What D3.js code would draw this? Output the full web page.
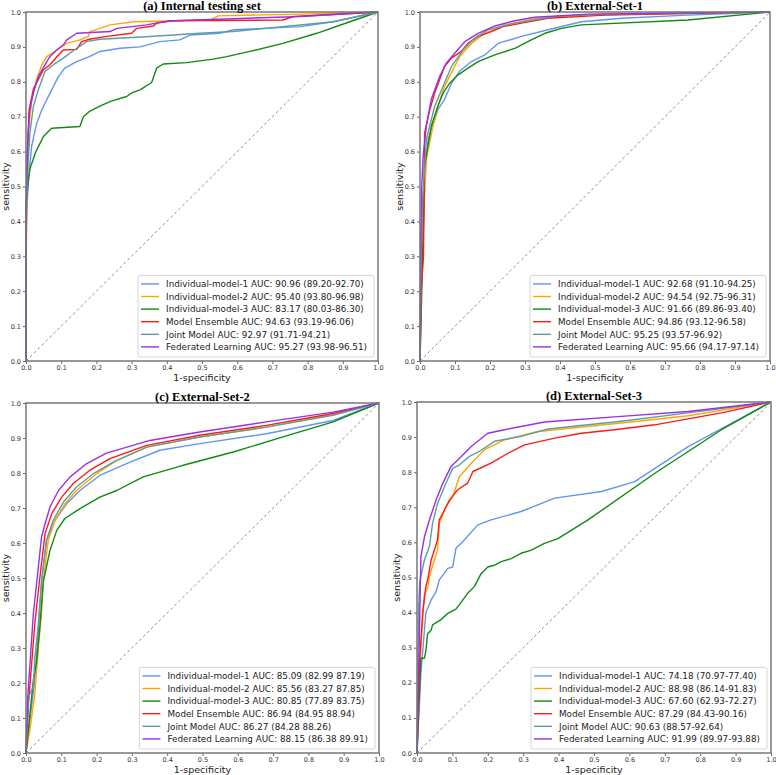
<!DOCTYPE html>
<html>
<head>
<meta charset="utf-8">
<script src="https://cdn.jsdelivr.net/npm/d3@7"></script>
<style>
  body { margin: 0; background: #fff; }
  svg { display: block; }
</style>
</head>
<body>
<svg id="chart" width="776" height="775"></svg>
<script>
// ROC curves, points are [1-specificity, sensitivity]
const seriesNames = ["Individual-model-1", "Individual-model-2", "Individual-model-3", "Model Ensemble", "Joint Model", "Federated Learning"];
const seriesColors = ["#6495ed", "#ffa500", "#108a10", "#ff1a1a", "#5f9ea0", "#9a2fe6"];
const ticks = [0, 0.1, 0.2, 0.3, 0.4, 0.5, 0.6, 0.7, 0.8, 0.9, 1.0];

const titles = ["(a) Internal testing set", "(b) External-Set-1", "(c) External-Set-2", "(d) External-Set-3"];

const aucA = ["90.96 (89.20-92.70)", "95.40 (93.80-96.98)", "83.17 (80.03-86.30)", "94.63 (93.19-96.06)", "92.97 (91.71-94.21)", "95.27 (93.98-96.51)"];
const aucB = ["92.68 (91.10-94.25)", "94.54 (92.75-96.31)", "91.66 (89.86-93.40)", "94.86 (93.12-96.58)", "95.25 (93.57-96.92)", "95.66 (94.17-97.14)"];
const aucC = ["85.09 (82.99 87.19)", "85.56 (83.27 87.85)", "80.85 (77.89 83.75)", "86.94 (84.95 88.94)", "86.27 (84.28 88.26)", "88.15 (86.38 89.91)"];
const aucD = ["74.18 (70.97-77.40)", "88.98 (86.14-91.83)", "67.60 (62.93-72.27)", "87.29 (84.43-90.16)", "90.63 (88.57-92.64)", "91.99 (89.97-93.88)"];

// (a) internal testing set
const rocA1 = [[0,0],[0,0.40],[0.007,0.52],[0.016,0.615],[0.03,0.68],[0.045,0.72],[0.059,0.749],[0.073,0.777],[0.092,0.815],[0.11,0.839],[0.144,0.858],[0.18,0.872],[0.21,0.887],[0.267,0.896],[0.324,0.90],[0.38,0.915],[0.437,0.92],[0.466,0.934],[0.55,0.939],[0.59,0.949],[0.78,0.958],[0.873,0.972],[1,1]];
const rocA2 = [[0,0],[0,0.27],[0.003,0.45],[0.007,0.653],[0.016,0.749],[0.03,0.806],[0.045,0.849],[0.059,0.872],[0.082,0.887],[0.116,0.91],[0.153,0.92],[0.177,0.93],[0.182,0.944],[0.21,0.953],[0.239,0.963],[0.305,0.972],[0.523,0.977],[0.546,0.989],[0.78,0.994],[1,1]];
const rocA3 = [[0,0],[0,0.44],[0.005,0.5],[0.011,0.55],[0.028,0.6],[0.05,0.644],[0.073,0.667],[0.153,0.672],[0.163,0.70],[0.18,0.715],[0.21,0.73],[0.24,0.744],[0.286,0.758],[0.30,0.768],[0.324,0.777],[0.357,0.798],[0.371,0.839],[0.39,0.851],[0.456,0.855],[0.532,0.865],[0.57,0.872],[0.636,0.887],[0.73,0.91],[0.826,0.939],[0.92,0.972],[1,1]];
const rocA4 = [[0,0],[0,0.40],[0.004,0.6],[0.009,0.72],[0.021,0.78],[0.035,0.806],[0.049,0.834],[0.068,0.849],[0.092,0.877],[0.106,0.891],[0.144,0.893],[0.158,0.915],[0.18,0.922],[0.23,0.93],[0.30,0.939],[0.314,0.953],[0.362,0.96],[0.371,0.968],[0.41,0.975],[0.73,0.977],[0.76,0.987],[1,1]];
const rocA5 = [[0,0],[0,0.35],[0.005,0.55],[0.011,0.653],[0.021,0.73],[0.035,0.777],[0.054,0.83],[0.078,0.849],[0.106,0.868],[0.144,0.896],[0.172,0.915],[0.21,0.922],[0.352,0.93],[0.494,0.939],[0.589,0.944],[0.873,0.972],[1,1]];
const rocA6 = [[0,0],[0,0.42],[0.004,0.6],[0.009,0.71],[0.021,0.768],[0.035,0.815],[0.059,0.858],[0.068,0.872],[0.087,0.891],[0.106,0.906],[0.116,0.92],[0.144,0.939],[0.239,0.944],[0.258,0.953],[0.343,0.963],[0.38,0.97],[0.418,0.975],[0.78,0.987],[1,1]];

// (b) External-Set-1
const rocB1 = [[0,0],[0.004,0.3],[0.008,0.45],[0.015,0.55],[0.023,0.634],[0.051,0.72],[0.07,0.749],[0.09,0.796],[0.113,0.83],[0.147,0.858],[0.185,0.877],[0.223,0.91],[0.29,0.93],[0.366,0.949],[0.461,0.972],[0.576,0.982],[0.766,0.991],[1,1]];
const rocB2 = [[0,0],[0.005,0.25],[0.012,0.45],[0.018,0.577],[0.037,0.672],[0.051,0.73],[0.07,0.787],[0.094,0.834],[0.113,0.872],[0.147,0.91],[0.185,0.939],[0.242,0.963],[0.337,0.982],[0.48,0.991],[1,1]];
const rocB3 = [[0,0],[0.005,0.2],[0.01,0.4],[0.013,0.558],[0.032,0.672],[0.051,0.73],[0.066,0.768],[0.085,0.796],[0.109,0.82],[0.137,0.839],[0.166,0.858],[0.214,0.877],[0.271,0.896],[0.318,0.92],[0.357,0.939],[0.404,0.953],[0.461,0.963],[0.766,0.977],[1,1]];
const rocB4 = [[0,0],[0.003,0.2],[0.01,0.3],[0.012,0.5],[0.013,0.653],[0.028,0.72],[0.042,0.768],[0.056,0.806],[0.07,0.844],[0.09,0.868],[0.118,0.887],[0.137,0.91],[0.166,0.93],[0.204,0.944],[0.237,0.958],[0.29,0.968],[0.366,0.982],[0.528,0.991],[1,1]];
const rocB5 = [[0,0],[0.003,0.3],[0.007,0.45],[0.018,0.634],[0.042,0.73],[0.066,0.787],[0.09,0.844],[0.123,0.891],[0.156,0.925],[0.194,0.949],[0.271,0.968],[0.385,0.987],[0.528,0.994],[1,1]];
const rocB6 = [[0,0],[0.002,0.35],[0.005,0.5],[0.009,0.587],[0.018,0.672],[0.032,0.749],[0.056,0.815],[0.075,0.853],[0.099,0.882],[0.128,0.915],[0.166,0.939],[0.214,0.96],[0.271,0.975],[0.328,0.985],[0.48,0.994],[1,1]];

// (c) External-Set-2
const rocC1 = [[0,0],[0.011,0.093],[0.025,0.21],[0.035,0.35],[0.044,0.49],[0.058,0.608],[0.082,0.665],[0.115,0.712],[0.153,0.75],[0.209,0.793],[0.285,0.827],[0.379,0.865],[0.492,0.884],[0.681,0.912],[0.87,0.95],[1,1]];
const rocC2 = [[0,0],[0.011,0.065],[0.025,0.17],[0.035,0.30],[0.044,0.40],[0.049,0.49],[0.063,0.608],[0.082,0.665],[0.11,0.712],[0.143,0.75],[0.2,0.798],[0.257,0.836],[0.342,0.874],[0.492,0.903],[0.681,0.931],[0.87,0.967],[1,1]];
const rocC3 = [[0,0],[0.021,0.21],[0.03,0.26],[0.04,0.37],[0.049,0.49],[0.068,0.579],[0.087,0.636],[0.11,0.67],[0.153,0.698],[0.209,0.731],[0.257,0.75],[0.332,0.789],[0.445,0.822],[0.587,0.86],[0.728,0.903],[0.87,0.946],[1,1]];
const rocC4 = [[0,0],[0.007,0.14],[0.025,0.37],[0.038,0.49],[0.054,0.627],[0.073,0.684],[0.101,0.731],[0.134,0.77],[0.181,0.808],[0.238,0.841],[0.342,0.879],[0.492,0.908],[0.681,0.936],[0.87,0.97],[1,1]];
const rocC5 = [[0,0],[0.007,0.16],[0.021,0.19],[0.025,0.27],[0.035,0.37],[0.044,0.49],[0.058,0.608],[0.077,0.665],[0.106,0.717],[0.143,0.76],[0.191,0.798],[0.247,0.831],[0.342,0.874],[0.492,0.903],[0.681,0.931],[0.87,0.965],[1,1]];
const rocC6 = [[0,0],[0.005,0.16],[0.021,0.40],[0.035,0.531],[0.044,0.617],[0.054,0.655],[0.068,0.703],[0.092,0.75],[0.125,0.789],[0.172,0.827],[0.228,0.857],[0.351,0.893],[0.492,0.917],[0.681,0.946],[0.87,0.974],[1,1]];

// (d) External-Set-3
const rocD1 = [[0,0],[0.011,0.227],[0.021,0.35],[0.025,0.40],[0.04,0.436],[0.054,0.46],[0.063,0.493],[0.087,0.526],[0.101,0.53],[0.11,0.583],[0.129,0.602],[0.172,0.65],[0.209,0.664],[0.294,0.688],[0.389,0.726],[0.521,0.745],[0.615,0.773],[0.766,0.873],[1,1]];
const rocD2 = [[0,0],[0.011,0.30],[0.021,0.455],[0.03,0.47],[0.035,0.502],[0.049,0.55],[0.058,0.578],[0.063,0.654],[0.082,0.702],[0.101,0.73],[0.12,0.788],[0.162,0.835],[0.191,0.864],[0.247,0.892],[0.342,0.916],[0.577,0.94],[0.766,0.961],[1,1]];
const rocD3 = [[0,0],[0.011,0.27],[0.021,0.27],[0.025,0.29],[0.03,0.34],[0.04,0.35],[0.044,0.365],[0.068,0.38],[0.087,0.398],[0.11,0.41],[0.125,0.43],[0.143,0.455],[0.162,0.474],[0.181,0.511],[0.2,0.53],[0.219,0.535],[0.238,0.545],[0.266,0.554],[0.294,0.569],[0.323,0.578],[0.36,0.597],[0.398,0.611],[0.483,0.664],[0.672,0.797],[0.86,0.921],[1,1]];
const rocD4 = [[0,0],[0.007,0.255],[0.016,0.40],[0.025,0.474],[0.03,0.492],[0.04,0.55],[0.058,0.607],[0.063,0.664],[0.073,0.683],[0.092,0.721],[0.115,0.75],[0.143,0.769],[0.158,0.802],[0.209,0.826],[0.257,0.854],[0.304,0.878],[0.389,0.897],[0.464,0.911],[0.558,0.921],[0.672,0.935],[0.86,0.969],[1,1]];
const rocD5 = [[0,0],[0.004,0.40],[0.008,0.49],[0.021,0.55],[0.035,0.588],[0.044,0.654],[0.058,0.711],[0.082,0.769],[0.101,0.811],[0.12,0.821],[0.148,0.845],[0.176,0.859],[0.219,0.888],[0.294,0.902],[0.37,0.923],[0.577,0.945],[0.766,0.969],[1,1]];
const rocD6 = [[0,0],[0.007,0.35],[0.011,0.559],[0.021,0.616],[0.035,0.664],[0.054,0.721],[0.073,0.769],[0.096,0.816],[0.125,0.845],[0.153,0.873],[0.2,0.911],[0.247,0.921],[0.36,0.943],[0.577,0.959],[0.766,0.973],[1,1]];

// panel boxes in pixels
const panels = [
  { title: titles[0], auc: aucA, rocs: [rocA1, rocA2, rocA3, rocA4, rocA5, rocA6], x0: 26, x1: 378, y0: 12, y1: 361 },
  { title: titles[1], auc: aucB, rocs: [rocB1, rocB2, rocB3, rocB4, rocB5, rocB6], x0: 420, x1: 770, y0: 12, y1: 361 },
  { title: titles[2], auc: aucC, rocs: [rocC1, rocC2, rocC3, rocC4, rocC5, rocC6], x0: 26, x1: 379, y0: 403, y1: 753 },
  { title: titles[3], auc: aucD, rocs: [rocD1, rocD2, rocD3, rocD4, rocD5, rocD6], x0: 417, x1: 771, y0: 402, y1: 753 }
];

const svg = d3.select("#chart");
const sans = "DejaVu Sans, sans-serif";

panels.forEach(function (p) {
  let x = d3.scaleLinear().domain([0, 1]).range([p.x0, p.x1]);
  let y = d3.scaleLinear().domain([0, 1]).range([p.y1, p.y0]);
  let g = svg.append("g");

  // axes
  let xAxis = g.append("g").attr("transform", "translate(0," + p.y1 + ")")
    .call(d3.axisBottom(x).tickValues(ticks).tickFormat(d3.format(".1f")).tickSizeOuter(0).tickSize(3).tickPadding(1.5));
  let yAxis = g.append("g").attr("transform", "translate(" + p.x0 + ",0)")
    .call(d3.axisLeft(y).tickValues(ticks).tickFormat(d3.format(".1f")).tickSizeOuter(0).tickSize(3).tickPadding(2));
  [xAxis, yAxis].forEach(function (a) {
    a.select(".domain").remove();
    a.selectAll("line").attr("stroke", "#444").attr("stroke-width", 0.8);
    a.selectAll("text").attr("fill", "#333").style("font-family", sans).style("font-size", "6.5px");
  });

  // chance line
  g.append("line")
    .attr("x1", x(0)).attr("y1", y(0)).attr("x2", x(1)).attr("y2", y(1))
    .attr("stroke", "#777").attr("stroke-width", 0.8).attr("stroke-dasharray", "3,2.5");

  let line = d3.line().x(function (d) { return x(d[0]); }).y(function (d) { return y(d[1]); });
  p.rocs.forEach(function (r, i) {
    g.append("path").datum(r).attr("d", line)
      .attr("fill", "none").attr("stroke", seriesColors[i]).attr("stroke-width", 1.4)
      .attr("stroke-linejoin", "round");
  });

  // frame
  g.append("rect")
    .attr("x", p.x0).attr("y", p.y0).attr("width", p.x1 - p.x0).attr("height", p.y1 - p.y0)
    .attr("fill", "none").attr("stroke", "#777").attr("stroke-width", 1.5);

  // titles and axis labels
  g.append("text").attr("x", (p.x0 + p.x1) / 2).attr("y", p.y0 - 2.5).attr("text-anchor", "middle")
    .style("font-family", "Liberation Serif, Times New Roman, serif").style("font-weight", "bold").style("font-size", "12.5px")
    .text(p.title);
  g.append("text").attr("x", (p.x0 + p.x1) / 2).attr("y", p.y1 + 20).attr("text-anchor", "middle")
    .style("font-family", sans).style("font-size", "9.5px").attr("fill", "#222").text("1-specificity");
  g.append("text").attr("transform", "translate(" + (p.x0 - 17) + "," + ((p.y0 + p.y1) / 2) + ") rotate(-90)")
    .attr("text-anchor", "middle").style("font-family", sans).style("font-size", "9.5px").attr("fill", "#222").text("sensitivity");

  // legend in lower right
  let leg = g.append("g");
  let box = leg.append("rect");
  let rowH = 12.6;
  let items = leg.selectAll("g").data(seriesNames).enter().append("g")
    .attr("transform", function (d, i) { return "translate(0," + (i * rowH) + ")"; });
  items.append("line").attr("x1", 0).attr("x2", 18).attr("y1", 0).attr("y2", 0)
    .attr("stroke", function (d, i) { return seriesColors[i]; }).attr("stroke-width", 1.4);
  let labels = items.append("text").attr("x", 25).attr("y", 3.2)
    .style("font-family", sans).style("font-size", "8.8px").attr("fill", "#222")
    .text(function (d, i) { return d + " AUC: " + p.auc[i]; });
  let w = d3.max(labels.nodes(), function (n) { return n.getComputedTextLength(); }) + 25;
  let bw = w + 10, bh = rowH * 6 + 6;
  let bx = p.x1 - 4 - bw, by = p.y1 - 4 - bh;
  box.attr("x", -3).attr("y", -8.5).attr("width", bw).attr("height", bh).attr("rx", 2)
    .attr("fill", "#fff").attr("fill-opacity", 0.85).attr("stroke", "#ccc").attr("stroke-width", 0.8);
  leg.attr("transform", "translate(" + (bx + 3) + "," + (by + 8.5) + ")");
});
</script>
</body>
</html>
